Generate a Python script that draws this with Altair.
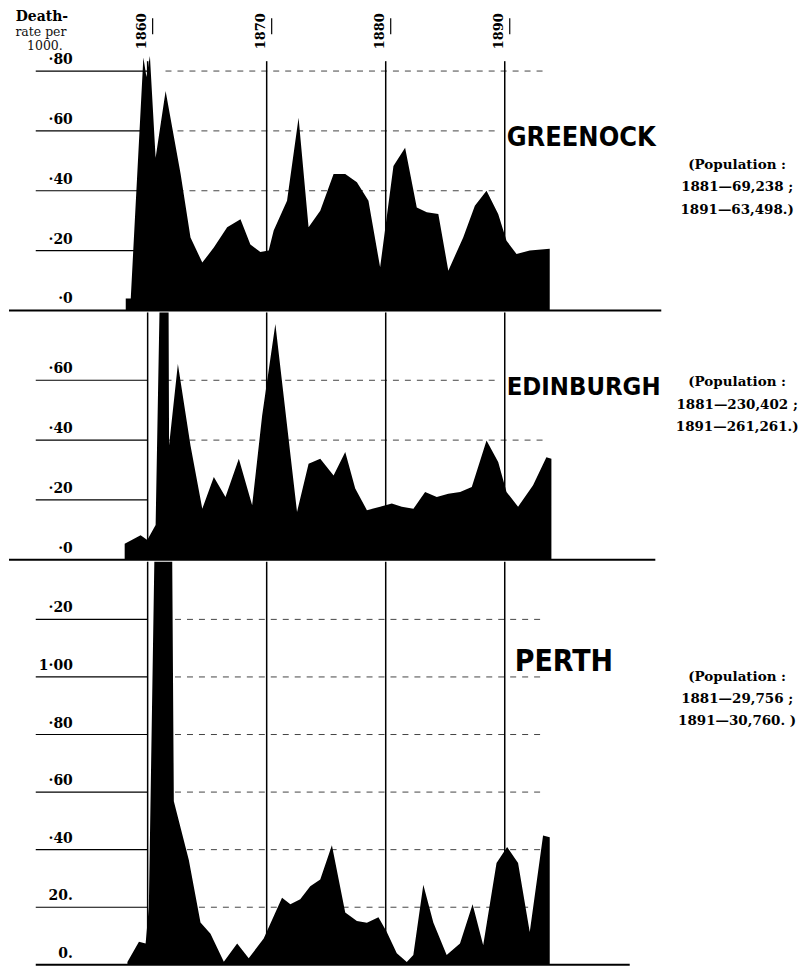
import altair as alt
import pandas as pd

# ---------------- data ----------------
YEARS_MARKED = [1860, 1870, 1880, 1890]

GREENOCK_YEAR = [1858.16, 1858.58, 1859.64, 1859.9, 1860.19, 1860.67, 1861.51, 1862.77, 1863.6, 1864.59,
                 1865.56, 1866.68, 1867.8, 1868.63, 1869.47, 1870.17, 1870.59, 1871.71, 1872.68, 1873.52,
                 1874.5, 1875.62, 1876.6, 1877.58, 1878.55, 1879.53, 1880.65, 1881.63, 1882.61, 1883.45,
                 1884.42, 1885.26, 1886.51, 1887.49, 1888.47, 1889.45, 1890.15, 1890.99, 1892.1, 1893.78]
GREENOCK_RATE = [0.04, 0.04, 0.845, 0.78, 0.85, 0.51, 0.733, 0.456, 0.244, 0.16,
                 0.21, 0.278, 0.305, 0.22, 0.195, 0.2, 0.267, 0.367, 0.644, 0.278,
                 0.333, 0.456, 0.456, 0.428, 0.367, 0.144, 0.483, 0.544, 0.344, 0.328,
                 0.322, 0.133, 0.244, 0.35, 0.4, 0.322, 0.233, 0.189, 0.2, 0.206]

EDINBURGH_YEAR = [1858.07, 1859.41, 1859.97, 1860.67, 1861.05, 1861.75, 1861.8, 1862.54, 1863.6, 1864.59,
                  1865.56, 1866.54, 1867.66, 1868.78, 1869.62, 1870.73, 1872.55, 1873.52, 1874.5, 1875.62,
                  1876.6, 1877.44, 1878.42, 1879.53, 1880.51, 1881.35, 1882.33, 1883.31, 1884.29, 1885.26,
                  1886.25, 1887.23, 1888.47, 1889.45, 1890.15, 1891.12, 1892.38, 1893.5, 1893.92]
EDINBURGH_RATE = [0.054, 0.082, 0.066, 0.116, 0.95, 0.95, 0.382, 0.654, 0.382, 0.171,
                  0.277, 0.21, 0.338, 0.182, 0.482, 0.788, 0.16, 0.321, 0.338, 0.282,
                  0.36, 0.238, 0.166, 0.177, 0.188, 0.177, 0.171, 0.227, 0.21, 0.221,
                  0.227, 0.243, 0.399, 0.327, 0.227, 0.177, 0.249, 0.343, 0.338]

PERTH_YEAR = [1858.3, 1859.27, 1859.83, 1860.1, 1860.6, 1862.05, 1862.2, 1863.46, 1864.44, 1865.28,
              1866.4, 1867.52, 1868.49, 1869.75, 1871.29, 1871.99, 1872.82, 1873.66, 1874.5, 1875.48,
              1876.6, 1877.58, 1878.42, 1879.39, 1880.09, 1880.93, 1881.77, 1882.32, 1883.16, 1884.0,
              1885.12, 1886.24, 1887.3, 1888.19, 1889.31, 1890.2, 1891.12, 1892.1, 1893.22, 1893.78]
PERTH_RATE = [0.01, 0.08, 0.074, 0.2, 1.5, 1.5, 0.568, 0.364, 0.147, 0.108,
              0.011, 0.074, 0.023, 0.091, 0.233, 0.21, 0.228, 0.273, 0.296, 0.415,
              0.182, 0.152, 0.146, 0.165, 0.114, 0.04, 0.01, 0.034, 0.278, 0.147,
              0.034, 0.074, 0.21, 0.068, 0.354, 0.409, 0.354, 0.114, 0.449, 0.443]

GREENOCK_TICKS = [0.0, 0.2, 0.4, 0.6, 0.8]
GREENOCK_TICK_TEXT = ["·0", "·20", "·40", "·60", "·80"]
EDINBURGH_TICKS = [0.0, 0.2, 0.4, 0.6]
EDINBURGH_TICK_TEXT = ["·0", "·20", "·40", "·60"]
PERTH_TICKS = [0.0, 0.2, 0.4, 0.6, 0.8, 1.0, 1.2]
PERTH_TICK_TEXT = ["0.", "20.", "·40", "·60", "·80", "1·00", "·20"]

GREENOCK_DASHED = [0.4, 0.6, 0.8]
EDINBURGH_DASHED = [0.4, 0.6]
PERTH_DASHED = [0.2, 0.4, 0.6, 0.8, 1.0, 1.2]

TITLES = ["GREENOCK", "EDINBURGH", "PERTH"]
POPULATION = [
    "(Population :\n1881\u201469,238 ;\n1891\u201463,498.)",
    "(Population :\n1881\u2014230,402 ;\n1891\u2014261,261.)",
    "(Population :\n1881\u201429,756 ;\n1891\u201430,760. )",
]
HEADER = ["Death-", "rate per", "1000."]

# ---------------- layout / style ----------------
W = 790
PX_PER_YEAR = 11.9333
X0 = 1848.352
X1 = X0 + W / PX_PER_YEAR
XS = alt.Scale(domain=[X0, X1], nice=False, zero=False)
SERIF = "DejaVu Serif"
SANS_C = "DejaVu Sans Condensed"
TICK_START = 1850.6


def X(f):
    return alt.X(f, type="quantitative", scale=XS, axis=None)


def panel(years, rates, ticks, tick_text, dashed, top, height, vtop, dash_from,
          short_rows, title, title_px, title_size, pop, pop_px, sep, greenock=False):
    ys = alt.Scale(domain=[0, top], nice=False, zero=False)

    def Y(f):
        return alt.Y(f, type="quantitative", scale=ys, axis=None)

    layers = []
    dash_df = pd.DataFrame({
        "v": dashed,
        "a": [dash_from] * len(dashed),
        "b": [1889.6 if v in short_rows else 1893.2 for v in dashed],
    })
    layers.append(alt.Chart(dash_df).mark_rule(strokeDash=[6, 6], color="#444", strokeWidth=1)
                  .encode(x=X("a"), x2="b", y=Y("v")))
    tick_df = pd.DataFrame({"v": ticks[1:], "a": [TICK_START] * (len(ticks) - 1),
                            "b": [1860.0] * (len(ticks) - 1)})
    layers.append(alt.Chart(tick_df).mark_rule(color="black", strokeWidth=1.2)
                  .encode(x=X("a"), x2="b", y=Y("v")))
    vdf = pd.DataFrame({"year": YEARS_MARKED, "y0": [0.0] * 4, "y1": [vtop] * 4})
    layers.append(alt.Chart(vdf).mark_rule(color="black", strokeWidth=1.5)
                  .encode(x=X("year"), y=Y("y0"), y2="y1"))
    adf = pd.DataFrame({"year": years, "rate": rates})
    layers.append(alt.Chart(adf).mark_area(color="black", clip=True, opacity=1)
                  .encode(x=X("year"), y=Y("rate")))
    bdf = pd.DataFrame({"a": [sep[0]], "b": [sep[1]], "v": [0.0]})
    layers.append(alt.Chart(bdf).mark_rule(color="black", strokeWidth=2)
                  .encode(x=X("a"), x2="b", y=Y("v")))
    ldf = pd.DataFrame({"v": ticks, "label": tick_text})
    layers.append(alt.Chart(ldf).mark_text(align="right", baseline="alphabetic", dy=-7,
                                           font=SERIF, fontWeight="bold", fontSize=14, color="black")
                  .encode(x=alt.value(64), y=Y("v"), text="label:N"))
    tdf = pd.DataFrame({"t": [title]})
    layers.append(alt.Chart(tdf).mark_text(align="left", baseline="alphabetic", font=SANS_C,
                                           fontWeight="bold", fontSize=title_size, color="black")
                  .encode(x=alt.value(title_px[0]), y=alt.value(title_px[1]), text="t:N"))
    pdf = pd.DataFrame({"t": [pop]})
    layers.append(alt.Chart(pdf).mark_text(align="center", baseline="alphabetic", font=SERIF,
                                           fontWeight="bold", fontSize=13.5, lineBreak="\n",
                                           lineHeight=22.5, color="black")
                  .encode(x=alt.value(pop_px[0]), y=alt.value(pop_px[1]), text="t:N"))
    if greenock:
        ydf = pd.DataFrame({"year": YEARS_MARKED, "label": [str(y) for y in YEARS_MARKED],
                            "tick": [y + 0.42 for y in YEARS_MARKED]})
        layers.append(alt.Chart(ydf).mark_text(angle=270, align="center", baseline="middle", dy=-6,
                                               font=SERIF, fontWeight="bold", fontSize=13, color="black")
                      .encode(x=X("year"), y=alt.value(22), text="label:N"))
        layers.append(alt.Chart(ydf).mark_rule(color="black", strokeWidth=1.2)
                      .encode(x=X("tick"), y=alt.value(9), y2=alt.value(25)))
        hdf = pd.DataFrame({"t": [HEADER[0]]})
        layers.append(alt.Chart(hdf).mark_text(align="center", baseline="alphabetic", font=SERIF,
                                               fontWeight="bold", fontSize=14, color="black")
                      .encode(x=alt.value(33), y=alt.value(12), text="t:N"))
        for txt, yy, xx in [(HEADER[1], 27, 32), (HEADER[2], 41, 36)]:
            layers.append(alt.Chart(pd.DataFrame({"t": [txt]})).mark_text(
                align="center", baseline="alphabetic", font=SERIF, fontSize=12.5, color="#111")
                .encode(x=alt.value(xx), y=alt.value(yy), text="t:N"))
    return alt.layer(*layers).properties(width=W, height=height)


greenock = panel(GREENOCK_YEAR, GREENOCK_RATE, GREENOCK_TICKS, GREENOCK_TICK_TEXT, GREENOCK_DASHED,
                 top=302 / 300, height=302, vtop=0.833, dash_from=1861.5, short_rows=[0.4, 0.6],
                 title=TITLES[0], title_px=(499, 137), title_size=27, pop=POPULATION[0], pop_px=(730, 160),
                 sep=(X0, 1903.15), greenock=True)
edinburgh = panel(EDINBURGH_YEAR, EDINBURGH_RATE, EDINBURGH_TICKS, EDINBURGH_TICK_TEXT, EDINBURGH_DASHED,
                  top=248 / 300, height=248, vtop=248 / 300, dash_from=1861.5, short_rows=[0.6],
                  title=TITLES[1], title_px=(499, 83), title_size=25.5, pop=POPULATION[1], pop_px=(730, 74),
                  sep=(X0, 1902.65))
perth = panel(PERTH_YEAR, PERTH_RATE, PERTH_TICKS, PERTH_TICK_TEXT, PERTH_DASHED,
              top=1.40, height=404, vtop=1.40, dash_from=1862.3, short_rows=[],
              title=TITLES[2], title_px=(507, 109), title_size=30, pop=POPULATION[2], pop_px=(730, 119),
              sep=(TICK_START, 1900.5))

chart = (alt.vconcat(greenock, edinburgh, perth, spacing=0)
         .resolve_scale(x="independent", y="independent")
         .properties(padding=0)
         .configure_view(stroke="transparent", strokeWidth=0))

chart.save("out.html", embed_options={"renderer": "svg", "actions": False})
